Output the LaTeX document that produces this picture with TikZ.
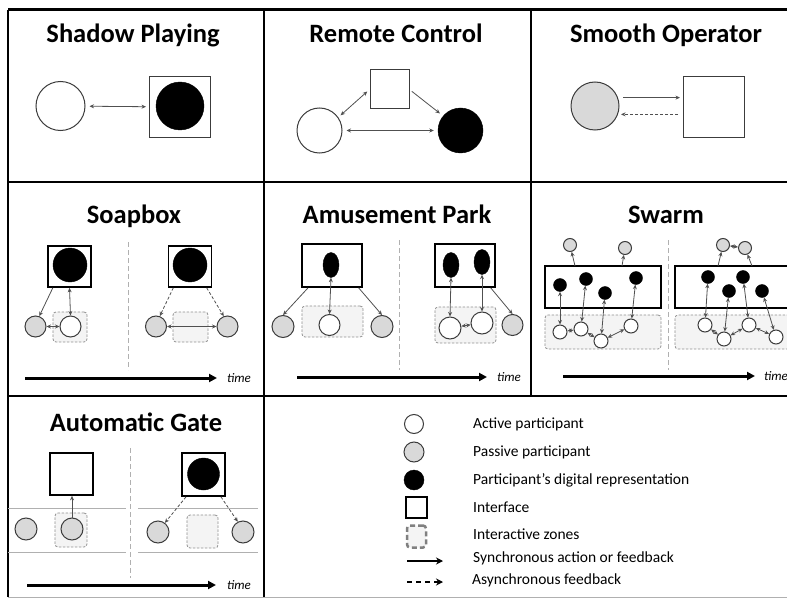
\documentclass[tikz,border=0pt]{standalone}
\usepackage{fontspec}
\setmainfont{Carlito}
\usetikzlibrary{arrows.meta}
\usetikzlibrary{shapes.geometric}

\definecolor{lnc}{HTML}{3C3C3C}
\definecolor{pasc}{HTML}{D9D9D9}
\definecolor{zonf}{HTML}{F4F4F4}
\definecolor{zonc}{HTML}{8F8F8F}
\definecolor{arrc}{HTML}{505050}
\definecolor{divc}{HTML}{B0B0B0}

\tikzset{
  actv/.style={circle,draw=lnc,line width=1pt,fill=white,inner sep=0pt,minimum size=#1},
  actv/.default=21,
  pasv/.style={actv=#1,fill=pasc},
  pasv/.default=21,
  repr/.style={circle,draw=black,fill=black,inner sep=0pt,minimum size=#1},
  repr/.default=20,
  rove/.style={ellipse,draw=black,fill=black,inner sep=0pt,minimum width=16,minimum height=25},
  ifc/.style={rectangle,draw=lnc,line width=1pt,fill=white,inner sep=0pt,minimum width=#1,minimum height=#1},
  ifc/.default=43,
  ifcb/.style={ifc=#1,draw=black,line width=1.7pt},
  ifcb/.default=43,
  zone/.style={rectangle,rounded corners=3pt,draw=zonc,dash pattern=on 2.5pt off 1.5pt,fill=zonf,line width=0.8pt,inner sep=0pt},
  lnk/.style={draw=arrc,line width=0.8pt,-{Stealth[length=4.5pt,width=4pt]}},
  dlnk/.style={lnk,{Stealth[length=4.5pt,width=4pt]}-{Stealth[length=4.5pt,width=4pt]}},
  alnk/.style={lnk,dash pattern=on 3pt off 2pt},
  tarr/.style={line width=3pt,-{Triangle[length=8pt,width=8pt]}},
  tlbl/.style={font=\fontsize{13}{15}\selectfont\itshape,anchor=west,inner sep=0pt},
  ttl/.style={font=\fontsize{26.5}{30}\selectfont\bfseries,anchor=base,inner sep=0pt},
  lgtx/.style={font=\fontsize{15.5}{18}\selectfont,anchor=base west,inner sep=0pt},
  sepl/.style={draw=divc,line width=0.8pt,dash pattern=on 5pt off 3pt},
  gtl/.style={draw=divc,line width=1pt},
  frm/.style={line width=2pt}
}

\begin{document}
\begin{tikzpicture}[x=1pt,y=1pt,yscale=-1,xscale=1]
\useasboundingbox (0,0) rectangle (787,599);
\clip (0,0) rectangle (787,599);

%Frame
\draw[line width=3pt] (8,10) -- (787,10);
\draw[frm] (8,10) -- (8,597);
\draw[frm] (264,10) -- (264,597);
\draw[frm] (531,10) -- (531,396);
\draw[frm] (8,182) -- (787,182);
\draw[frm] (8,396) -- (787,396);
\draw[gtl] (8,597) -- (787,597);

%Shadow Playing
\node[ttl] (t-sp) at (133,43) {Shadow Playing};
\node[actv=49] (sp-a) at (60.5,106) {};
\node[ifc=61] (sp-i) at (180,107) {};
\node[repr=48] (sp-r) at (180,106) {};
\draw[dlnk,shorten <=4pt,shorten >=3pt] (sp-a) -- (sp-i);

%Remote Control
\node[ttl] (t-rc) at (396,43) {Remote Control};
\node[ifc=39] (rc-i) at (389.5,89.5) {};
\node[actv=45] (rc-a) at (319.5,130.5) {};
\node[repr=45] (rc-r) at (460.5,130.5) {};
\draw[dlnk,shorten <=4pt,shorten >=4pt] (rc-a) -- (rc-r);
\draw[dlnk,shorten <=3pt,shorten >=3pt] (rc-a.35) -- (rc-i.west);
\draw[lnk,shorten <=3pt,shorten >=4pt] (rc-i.east) -- (rc-r.140);

%Smooth Operator
\node[ttl] (t-so) at (666,43) {Smooth Operator};
\node[pasv=48] (so-p) at (595,106) {};
\node[ifc=61] (so-i) at (714,107.5) {};
\draw[lnk,shorten <=5pt,shorten >=3pt] (so-p.20) -- (so-i.west |- so-p.20);
\draw[alnk,shorten <=5pt,shorten >=3pt] (so-i.west |- so-p.-20) -- (so-p.-20);

%Soapbox
\node[ttl] (t-sb) at (134,223) {Soapbox};
\draw[sepl] (128,242) -- (128,370);
\node[zone,minimum width=34,minimum height=30] (sb-z1) at (70,327) {};
\node[ifcb,minimum width=43,minimum height=41] (sb-i1) at (69.5,266.5) {};
\node[repr=34] (sb-r1) at (70,265) {};
\node[pasv] (sb-p1) at (35.5,326.5) {};
\node[actv] (sb-a1) at (70.5,326.5) {};
\draw[lnk] (sb-i1.232) -- (sb-p1.70);
\draw[dlnk] (sb-i1.south) -- (sb-a1.north);
\draw[dlnk] (sb-p1) -- (sb-a1);
\node[zone,minimum width=35,minimum height=30] (sb-z2) at (190.5,327) {};
\node[ifcb,minimum width=43,minimum height=41] (sb-i2) at (190,266.5) {};
\node[repr=34] (sb-r2) at (190,265) {};
\node[pasv] (sb-p2) at (156,326.5) {};
\node[pasv] (sb-p3) at (227.5,326.5) {};
\draw[alnk] (sb-i2.232) -- (sb-p2.70);
\draw[alnk] (sb-i2.-52) -- (sb-p3.110);
\draw[dlnk] (sb-p2) -- (sb-p3);
\coordinate (sb-t0) at (25,378);
\coordinate (sb-t1) at (217,378);
\draw[tarr] (sb-t0) -- (sb-t1);
\node[tlbl] (sb-tl) at (227,378) {time};

%Amusement Park
\node[ttl] (t-ap) at (397,223) {Amusement Park};
\draw[sepl] (399,240) -- (399,370);
\node[zone,minimum width=61,minimum height=31] (ap-z1) at (332.5,321.5) {};
\node[ifcb,minimum width=60,minimum height=43] (ap-i1) at (332,265.5) {};
\node[rove] (ap-r1) at (331,265) {};
\node[pasv=22] (ap-p1) at (283,326.5) {};
\node[pasv=22] (ap-p2) at (382,326.5) {};
\node[actv] (ap-a1) at (329.5,325) {};
\draw[lnk] (ap-i1.223) -- (ap-p1.north);
\draw[lnk] (ap-i1.-40) -- (ap-p2.north);
\draw[dlnk] (ap-r1.south) -- (ap-a1.north);
\node[zone,minimum width=61,minimum height=36] (ap-z2) at (465.5,325) {};
\node[ifcb,minimum width=60,minimum height=43] (ap-i2) at (465,265.5) {};
\node[rove] (ap-r2) at (451,265) {};
\node[rove] (ap-r3) at (482,262) {};
\node[actv=22] (ap-a2) at (450,328) {};
\node[actv=22] (ap-a3) at (482,323) {};
\node[pasv] (ap-p3) at (512.5,325) {};
\draw[dlnk] (ap-r2.south) -- (ap-a2.north);
\draw[dlnk] (ap-r3.south) -- (ap-a3.north);
\draw[dlnk] (ap-a2) -- (ap-a3);
\draw[lnk] (ap-i2.-41) -- (ap-p3.north);
\coordinate (ap-t0) at (297,377);
\coordinate (ap-t1) at (487,377);
\draw[tarr] (ap-t0) -- (ap-t1);
\node[tlbl] (ap-tl) at (497,377) {time};

%Swarm
\node[ttl] (t-sw) at (666,223) {Swarm};
\draw[sepl] (668,240) -- (668,370);
\node[zone,minimum width=116,minimum height=34] (sw-z1) at (603,332) {};
\node[ifcb,minimum width=116,minimum height=42] (sw-i1) at (603,287) {};
\node[pasv=13] (sw-p1) at (570,245) {};
\node[pasv=13] (sw-p2) at (625,248) {};
\coordinate (sw-c1) at (575,266);
\coordinate (sw-c2) at (622,266);
\draw[lnk] (sw-c1) -- (sw-p1);
\draw[lnk] (sw-c2) -- (sw-p2);
\node[repr=13] (sw-r1) at (560,285) {};
\node[repr=13] (sw-r2) at (586,279) {};
\node[repr=13] (sw-r3) at (605,293) {};
\node[repr=13] (sw-r4) at (636,278) {};
\node[actv=14] (sw-a1) at (560,332) {};
\node[actv=14] (sw-a2) at (581,329) {};
\node[actv=14] (sw-a3) at (601,341) {};
\node[actv=14] (sw-a4) at (631,326) {};
\foreach \i in {1,2,3,4} {\draw[dlnk] (sw-r\i) -- (sw-a\i);}
\draw[dlnk] (sw-a1) -- (sw-a2);
\draw[dlnk] (sw-a2) -- (sw-a3);
\draw[dlnk] (sw-a3) -- (sw-a4);
\node[zone,minimum width=125,minimum height=34] (sw-z2) at (737.5,332) {};
\node[ifcb,minimum width=125,minimum height=42] (sw-i2) at (737.5,287) {};
\node[pasv=13] (sw-p3) at (723,245) {};
\node[pasv=13] (sw-p4) at (745,248) {};
\coordinate (sw-c3) at (718,266);
\coordinate (sw-c4) at (752,266);
\draw[lnk] (sw-c3) -- (sw-p3);
\draw[lnk] (sw-c4) -- (sw-p4);
\draw[dlnk] (sw-p3) -- (sw-p4);
\node[repr=13] (sw-r5) at (708,277) {};
\node[repr=13] (sw-r6) at (729,291) {};
\node[repr=13] (sw-r7) at (743,277) {};
\node[repr=13] (sw-r8) at (762,291) {};
\node[actv=14] (sw-a5) at (705,325) {};
\node[actv=14] (sw-a6) at (724,339) {};
\node[actv=14] (sw-a7) at (749,325) {};
\node[actv=14] (sw-a8) at (776,337) {};
\foreach \i in {5,6,7,8} {\draw[dlnk] (sw-r\i) -- (sw-a\i);}
\draw[dlnk] (sw-a5) -- (sw-a6);
\draw[dlnk] (sw-a6) -- (sw-a7);
\draw[dlnk] (sw-a7) -- (sw-a8);
\coordinate (sw-t0) at (563,376);
\coordinate (sw-t1) at (755,376);
\draw[tarr] (sw-t0) -- (sw-t1);
\node[tlbl] (sw-tl) at (764,376) {time};

%Automatic Gate
\node[ttl] (t-ag) at (136,431.5) {Automatic Gate};
\draw[sepl] (130,448) -- (130,578);
\draw[gtl] (8,508) -- (126,508);
\draw[gtl] (8,552) -- (126,552);
\draw[gtl] (138,508) -- (258,508);
\draw[gtl] (138,552) -- (258,552);
\node[zone,minimum width=32,minimum height=34] (ag-z1) at (71,530) {};
\node[ifcb,minimum width=43,minimum height=42] (ag-i1) at (71.5,474) {};
\node[pasv=22] (ag-p1) at (26,529) {};
\node[pasv=22] (ag-p2) at (72,529) {};
\draw[lnk] (ag-p2.north) -- (ag-i1.south -| ag-p2.north);
\node[zone,minimum width=31,minimum height=33] (ag-z2) at (202.5,531.5) {};
\node[ifcb] (ag-i2) at (203.5,474.5) {};
\node[repr=32] (ag-r1) at (203.5,474) {};
\node[pasv=22] (ag-p3) at (158,532) {};
\node[pasv=22] (ag-p4) at (243,532) {};
\draw[alnk] (ag-i2.232) -- (ag-p3.53);
\draw[alnk] (ag-i2.-52) -- (ag-p4.117);
\coordinate (ag-t0) at (27,585);
\coordinate (ag-t1) at (216,585);
\draw[tarr] (ag-t0) -- (ag-t1);
\node[tlbl] (ag-tl) at (227,585) {time};

%Legend
\node[actv=19] (lg-a) at (414,424) {};
\node[pasv=20] (lg-p) at (414,452) {};
\node[repr=20] (lg-r) at (414,480) {};
\node[ifcb=21] (lg-i) at (416.5,507.5) {};
\node[zone,draw=gray,line width=2.5pt,dash pattern=on 5pt off 3pt,minimum width=19,minimum height=22] (lg-z) at (416.5,536.5) {};
\coordinate (lg-s0) at (407,561);
\coordinate (lg-s1) at (443,561);
\coordinate (lg-d0) at (407,582);
\coordinate (lg-d1) at (443,582);
\draw[line width=1.4pt,-{Stealth[length=7pt,width=7pt]}] (lg-s0) -- (lg-s1);
\draw[line width=1.4pt,dash pattern=on 5pt off 4pt,-{Stealth[length=7pt,width=7pt]}] (lg-d0) -- (lg-d1);
\node[lgtx] (lg-at) at (473,428.5) {Active participant};
\node[lgtx] (lg-pt) at (473,456.5) {Passive participant};
\node[lgtx] (lg-rt) at (473,484.5) {Participant’s digital representation};
\node[lgtx] (lg-it) at (473,512) {Interface};
\node[lgtx] (lg-zt) at (473,539.5) {Interactive zones};
\node[lgtx] (lg-st) at (473,562) {Synchronous action or feedback};
\node[lgtx] (lg-dt) at (472,584) {Asynchronous feedback};
\end{tikzpicture}
\end{document}
